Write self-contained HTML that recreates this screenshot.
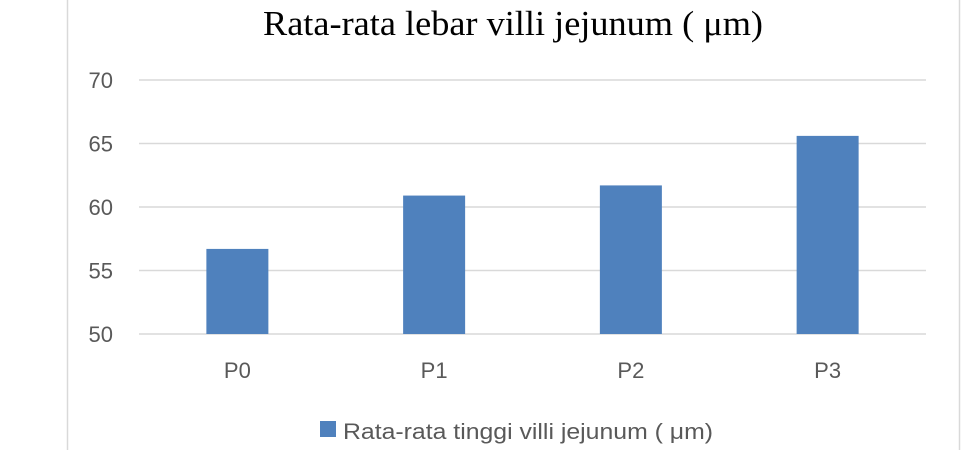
<!DOCTYPE html>
<html><head><meta charset="utf-8"><style>
body{margin:0;background:#fff;width:980px;height:450px;overflow:hidden}
svg{display:block}
</style></head><body>
<svg id="chart" width="980" height="450" font-family="Liberation Sans, sans-serif">
<rect x="0" y="0" width="980" height="450" fill="#fff"/>
<line x1="67.5" y1="0" x2="67.5" y2="450" stroke="#d9d9d9" stroke-width="1.5"/>
<line x1="959.5" y1="0" x2="959.5" y2="450" stroke="#d9d9d9" stroke-width="1.5"/>
<text x="263" y="35" textLength="500" lengthAdjust="spacingAndGlyphs" font-family="Liberation Serif, serif" font-size="35" fill="#000">Rata-rata lebar villi jejunum ( μm)</text>
<g id="grid"></g><g id="bars"></g><g id="labels"></g>
<rect x="320" y="421" width="16" height="16" fill="#4f81bd"/>
<text x="343" y="439" textLength="370" lengthAdjust="spacingAndGlyphs" font-size="22" fill="#595959">Rata-rata tinggi villi jejunum ( μm)</text>
</svg>
<script>
const categories=["P0","P1","P2","P3"];
const values=[56.7,60.9,61.7,65.6];
const ticks=[50,55,60,65,70];
const ns="http://www.w3.org/2000/svg";
const x0=139,x1=926,yMin=50,yMax=70,yTop=80,yBot=334;
const y=v=>yBot-(v-yMin)/(yMax-yMin)*(yBot-yTop);
const band=(x1-x0)/categories.length;
const xc=i=>x0+band*(i+0.5);
const bw=62;
const grid=document.getElementById('grid'),bars=document.getElementById('bars'),labels=document.getElementById('labels');
ticks.forEach(t=>{
 const l=document.createElementNS(ns,'line');
 l.setAttribute('x1',x0);l.setAttribute('x2',x1);l.setAttribute('y1',y(t));l.setAttribute('y2',y(t));
 l.setAttribute('stroke','#d9d9d9');l.setAttribute('stroke-width','1.5');
 
 
 grid.appendChild(l);
 const tx=document.createElementNS(ns,'text');
 tx.setAttribute('x',113);tx.setAttribute('y',y(t)+8);tx.setAttribute('text-anchor','end');
 tx.setAttribute('font-size','22');tx.setAttribute('fill','#595959');tx.textContent=t;
 
 
 labels.appendChild(tx);
});
categories.forEach((c,i)=>{
 const r=document.createElementNS(ns,'rect');
 r.setAttribute('x',xc(i)-bw/2);r.setAttribute('width',bw);
 r.setAttribute('y',y(values[i]));r.setAttribute('height',yBot-y(values[i]));
 r.setAttribute('fill','#4f81bd');
 
 
 bars.appendChild(r);
 const tx=document.createElementNS(ns,'text');
 tx.setAttribute('x',xc(i));tx.setAttribute('y',378);tx.setAttribute('text-anchor','middle');
 tx.setAttribute('font-size','22');tx.setAttribute('fill','#595959');tx.textContent=c;
 
 
 labels.appendChild(tx);
});
</script>
</body></html>
